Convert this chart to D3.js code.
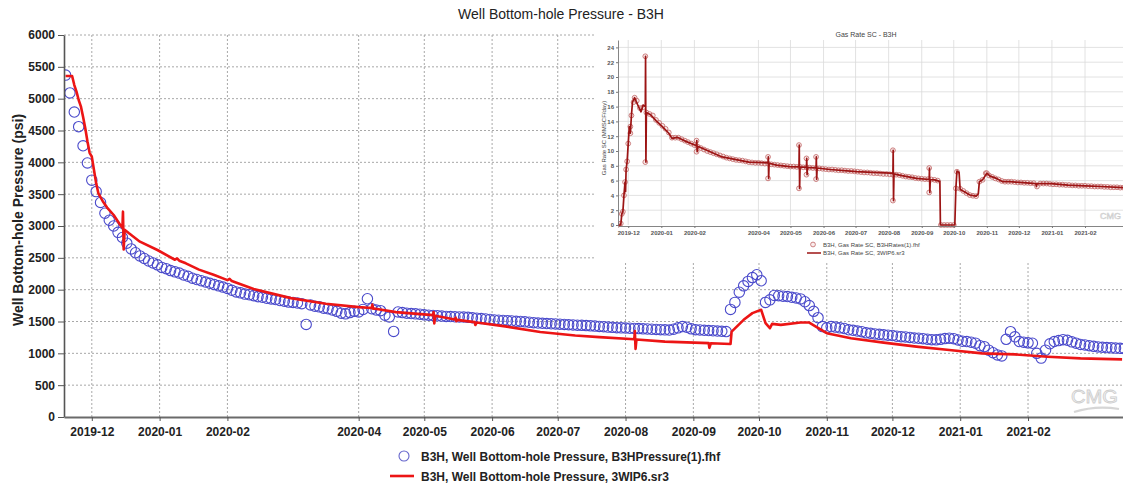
<!DOCTYPE html>
<html>
<head>
<meta charset="utf-8">
<script src="https://cdn.jsdelivr.net/npm/d3@7"></script>
<style>
  html, body { margin: 0; padding: 0; background: #fff; overflow: hidden; }
  svg { display: block; font-family: Arial, "Liberation Sans", sans-serif; }
</style>
</head>
<body>
<svg id="chart" width="1123" height="489"></svg>
<script>
// ---------------- data ----------------
const monthTicks = ["2019-12","2020-01","2020-02","2020-04","2020-05","2020-06","2020-07",
                    "2020-08","2020-09","2020-10","2020-11","2020-12","2021-01","2021-02"];
const pressureTicks = [0,500,1000,1500,2000,2500,3000,3500,4000,4500,5000,5500,6000];
const rateTicks = [0,2,4,6,8,10,12,14,16,18,20,22,24];

// measured bottom-hole pressure (psi), one reading every 2 days
const obsPressureStart = "2019-11-19";
const obsPressureStepDays = 2;
const obsPressure = [
  5370,5090,4790,4560,4260,3990,3720,3540,3370,3200,
  3090,3000,2900,2820,2730,2640,2580,2530,2490,2450,
  2420,2390,2350,2330,2300,2280,2260,2230,2210,2180,
  2160,2140,2120,2100,2080,2060,2040,2020,1990,1965,
  1950,1930,1920,1905,1890,1880,1865,1855,1845,1830,
  1820,1805,1800,1790,1780,1454,1760,1740,1730,1710,
  1700,1680,1660,1630,1620,1640,1660,1650,1690,1857,
  1700,1680,1670,1600,1570,1344,1650,1640,1630,1625,
  1620,1615,1605,1600,1595,1590,1585,1580,1578,1575,
  1572,1570,1565,1558,1552,1546,1540,1533,1525,1520,
  1516,1512,1508,1503,1500,1495,1488,1482,1476,1472,
  1468,1465,1462,1458,1454,1450,1446,1443,1440,1436,
  1432,1428,1422,1418,1412,1408,1403,1400,1397,1394,
  1392,1389,1385,1382,1378,1375,1372,1369,1366,1380,
  1400,1420,1410,1385,1372,1368,1362,1358,1355,1350,
  1346,1342,1690,1800,1960,2060,2130,2190,2235,2140,
  1800,1840,1910,1905,1898,1892,1880,1870,1855,1810,
  1750,1660,1560,1420,1400,1420,1412,1400,1390,1370,
  1362,1350,1340,1322,1315,1305,1298,1290,1285,1280,
  1270,1262,1258,1250,1240,1237,1230,1222,1215,1212,
  1220,1232,1238,1230,1210,1190,1185,1175,1160,1120,
  1105,1050,1010,975,960,1220,1340,1260,1185,1175,
  1165,1158,1000,925,1050,1150,1185,1200,1215,1205,
  1180,1160,1140,1132,1120,1110,1100,1095,1090,1086,
  1082,1079,1075
];

// simulated bottom-hole pressure (psi), 3WIP6.sr3
const simPressureDates = [
  "2019-11-19","2019-11-22","2019-11-23","2019-11-24","2019-11-25","2019-11-26","2019-11-27",
  "2019-11-28","2019-11-29","2019-11-30","2019-12-01","2019-12-02","2019-12-03","2019-12-04",
  "2019-12-06","2019-12-08","2019-12-11","2019-12-14","2019-12-15","2019-12-15T06:00Z",
  "2019-12-15T14:00Z","2019-12-16","2019-12-18","2019-12-23","2019-12-31","2020-01-08",
  "2020-01-09","2020-01-10","2020-01-13","2020-01-19","2020-01-26","2020-02-01","2020-02-02",
  "2020-02-03","2020-02-13","2020-03-01","2020-03-17","2020-04-01","2020-04-07",
  "2020-04-07T06:00Z","2020-04-07T14:00Z","2020-04-08","2020-04-18","2020-05-05",
  "2020-05-05T06:00Z","2020-05-05T14:00Z","2020-05-06","2020-05-15","2020-05-15T08:00Z",
  "2020-05-15T16:00Z","2020-05-16","2020-05-24","2020-05-24T08:00Z","2020-05-25","2020-06-07",
  "2020-06-23","2020-07-09","2020-07-20","2020-08-05","2020-08-05T06:00Z","2020-08-05T14:00Z",
  "2020-08-06","2020-08-19","2020-09-08","2020-09-08T08:00Z","2020-09-09","2020-09-18",
  "2020-09-18T12:00Z","2020-09-24","2020-09-28","2020-10-02","2020-10-04","2020-10-06",
  "2020-10-07","2020-10-11","2020-10-20","2020-10-24","2020-10-27","2020-11-01","2020-11-12",
  "2020-11-27","2020-12-12","2020-12-27","2021-01-11","2021-01-26","2021-02-10","2021-02-25",
  "2021-03-16"
];
const simPressure = [
  5356,5356,5214,5110,4979,4880,4717,
  4540,4330,4150,4090,3879,3670,3513,
  3390,3290,3173,3016,2975,3225,
  2630,2940,2885,2754,2623,2470,
  2490,2455,2414,2315,2230,2150,2170,
  2135,2010,1867,1778,1726,1712,
  1765,1700,1705,1647,1600,
  1650,1470,1590,1530,1560,
  1505,1525,1490,1445,1485,1423,
  1334,1281,1255,1221,1350,1070,
  1218,1184,1160,1085,1158,1147,
  1342,1526,1632,1684,1474,1395,
  1463,1447,1484,1484,1421,1316,1237,
  1168,1105,1053,1000,984,947,921,
  905
];

// measured gas rate (MMSCF/day), one reading every 3 days
const obsRateStart = "2019-11-21";
const obsRateStepDays = 3;
const obsRate = [
  0,0.2,4.0,8.6,13.3,16.6,16.8,15.8,15.9,15.2,
  15.0,14.8,14.2,13.8,13.4,13.0,12.5,11.8,11.8,11.8,
  11.6,11.4,11.2,11.0,10.8,10.6,10.4,10.2,10.0,9.85,
  9.7,9.55,9.4,9.25,9.1,9.0,8.9,8.8,8.75,8.7,
  8.6,8.5,8.45,8.4,8.4,8.35,8.3,8.3,8.2,8.15,
  8.1,8.05,8.0,7.95,7.9,7.9,7.85,7.85,7.8,7.8,
  7.75,7.7,7.7,7.65,7.6,7.55,7.5,7.5,7.45,7.4,
  7.4,7.35,7.3,7.3,7.25,7.2,7.15,7.1,7.1,7.05,
  7.0,7.0,6.95,6.9,6.9,6.85,6.8,6.8,6.75,6.65,
  6.55,6.5,6.45,6.35,6.3,6.25,6.2,6.2,6.15,6.1,
  6.0,0,0,0,0,0,7.2,4.9,4.6,4.3,
  4.05,3.95,3.9,5.85,6.1,7.0,6.7,6.5,6.3,6.15,
  5.95,5.85,5.85,5.85,5.8,5.75,5.75,5.7,5.7,5.65,
  5.65,5.2,5.6,5.6,5.6,5.55,5.5,5.5,5.45,5.45,
  5.4,5.4,5.35,5.35,5.3,5.3,5.3,5.25,5.25,5.2,
  5.2,5.2,5.15,5.15,5.1,5.1,5.1,5.05,5.05
];
// additional measured gas-rate readings (ramp-up and short spikes)
const obsRateExtraDates = [
  "2019-11-25","2019-11-26","2019-11-28","2019-11-29","2019-12-01","2019-12-03","2019-12-04",
  "2019-12-07","2019-12-17","2019-12-17","2020-02-03","2020-02-03","2020-04-10","2020-04-10",
  "2020-05-09","2020-05-09","2020-05-16","2020-05-16","2020-05-25","2020-05-25","2020-08-05",
  "2020-08-05","2020-09-08","2020-09-08","2020-10-03","2020-11-01"
];
const obsRateExtra = [
  1.5,1.8,5.8,7.5,11.0,12.4,14.8,
  17.2,22.8,8.5,11.4,9.9,9.2,6.3,
  10.8,4.95,9.0,6.8,9.2,6.2,10.1,
  3.3,7.7,4.4,4.95,7.0
];

// simulated gas rate (MMSCF/day), 3WIP6.sr3
const simRateDates = [
  "2019-11-21","2019-11-24","2019-11-25","2019-11-26","2019-11-27","2019-11-28","2019-11-28T12:00Z",
  "2019-11-29","2019-11-30","2019-12-01","2019-12-02","2019-12-03","2019-12-04","2019-12-05",
  "2019-12-07","2019-12-10","2019-12-13","2019-12-15","2019-12-17","2019-12-17T06:00Z",
  "2019-12-17T14:00Z","2019-12-18","2019-12-22","2019-12-27","2020-01-02","2020-01-08",
  "2020-01-11","2020-01-16","2020-01-24","2020-02-03","2020-02-03T06:00Z","2020-02-03T14:00Z",
  "2020-02-04","2020-02-27","2020-03-23","2020-04-10","2020-04-10T06:00Z","2020-04-10T14:00Z",
  "2020-04-11","2020-04-18","2020-04-30","2020-05-09","2020-05-09T06:00Z","2020-05-09T14:00Z",
  "2020-05-10","2020-05-16","2020-05-16T06:00Z","2020-05-16T14:00Z","2020-05-17","2020-05-25",
  "2020-05-25T06:00Z","2020-05-25T14:00Z","2020-05-26","2020-06-07","2020-07-02","2020-07-17",
  "2020-08-03","2020-08-05","2020-08-05T06:00Z","2020-08-05T14:00Z","2020-08-06","2020-08-11",
  "2020-08-27","2020-09-08","2020-09-08T06:00Z","2020-09-08T14:00Z","2020-09-09","2020-09-13",
  "2020-09-18","2020-09-18T12:00Z","2020-10-02","2020-10-03","2020-10-04","2020-10-06",
  "2020-10-07","2020-10-11","2020-10-16","2020-10-22","2020-10-24","2020-10-25","2020-10-28",
  "2020-11-01","2020-11-04","2020-11-10","2020-11-16","2020-11-23","2020-12-05","2020-12-17",
  "2020-12-17T12:00Z","2020-12-18","2020-12-31","2021-01-16","2021-02-01","2021-02-16","2021-03-09"
];
const simRate = [
  0,0,1.5,1.8,4.0,5.8,4.5,
  7.5,8.6,11.0,13.3,12.4,14.8,16.6,
  17.2,16.2,15.3,16.2,16.0,22.8,
  8.5,15.2,14.9,14.1,13.3,12.4,
  11.7,11.85,11.3,10.7,11.4,9.9,
  10.65,9.2,8.5,8.4,9.2,6.3,
  8.35,8.1,7.9,7.85,10.8,4.95,
  7.85,7.8,9.0,6.8,7.8,7.7,
  9.2,6.2,7.7,7.5,7.2,7.1,
  7.0,6.95,10.1,3.3,6.9,6.75,
  6.3,6.15,7.7,4.4,6.15,6.1,
  5.9,0,0,4.95,7.3,7.1,
  4.8,4.5,4.05,3.9,4.2,5.85,6.1,
  7.0,6.6,6.3,5.85,5.85,5.72,5.6,
  5.2,5.6,5.6,5.4,5.3,5.2,5.05
];

// ---------------- helpers ----------------
const DAY = 864e5;
const parseDate = s => new Date(s.length === 10 ? s + "T00:00:00Z" : s);
const regularSeries = (start, step, values) =>
  values.map((v, i) => ({ date: new Date(parseDate(start).getTime() + i * step * DAY), value: v }));
const pairSeries = (dates, values) => dates.map((d, i) => ({ date: parseDate(d), value: values[i] }));
const monthDates = monthTicks.map(m => parseDate(m + "-01"));

const svg = d3.select("#chart");
const W = 1123, H = 489;

// ---------------- main pressure plot ----------------
const plot = { left: 64, right: 1123, top: 35, bottom: 417 };
const x = d3.scaleUtc()
  .domain([parseDate("2019-11-18T07:00Z"), parseDate("2021-03-16T10:00Z")])
  .range([plot.left, plot.right]);
const y = d3.scaleLinear().domain([0, 6000]).range([plot.bottom, plot.top]);

const grid = svg.append("g").attr("class", "grid");
grid.selectAll("line.h").data(pressureTicks.filter(v => v > 0)).join("line")
  .attr("x1", plot.left).attr("x2", plot.right)
  .attr("y1", d => y(d)).attr("y2", d => y(d))
  .attr("stroke", "#a8a8a8").attr("stroke-width", 1).attr("stroke-dasharray", "2,2");
grid.selectAll("line.v").data(monthDates).join("line")
  .attr("x1", d => x(d)).attr("x2", d => x(d))
  .attr("y1", plot.top).attr("y2", plot.bottom)
  .attr("stroke", "#a8a8a8").attr("stroke-width", 1).attr("stroke-dasharray", "2,2");

svg.append("clipPath").attr("id", "plotClip").append("rect")
  .attr("x", plot.left + 1).attr("y", plot.top - 10)
  .attr("width", plot.right - plot.left).attr("height", plot.bottom - plot.top + 10);

const dataLayer = svg.append("g").attr("clip-path", "url(#plotClip)");
const obsP = regularSeries(obsPressureStart, obsPressureStepDays, obsPressure);
dataLayer.selectAll("circle").data(obsP).join("circle")
  .attr("cx", d => x(d.date)).attr("cy", d => y(d.value)).attr("r", 5.2)
  .attr("fill", "none").attr("stroke", "#4a4acb").attr("stroke-width", 1.1);

const simP = pairSeries(simPressureDates, simPressure);
dataLayer.append("path").datum(simP)
  .attr("d", d3.line().x(d => x(d.date)).y(d => y(d.value)))
  .attr("fill", "none").attr("stroke", "#ec1515").attr("stroke-width", 2.6)
  .attr("stroke-linejoin", "round");

// axes
const yAxis = svg.append("g").attr("transform", `translate(${plot.left},0)`)
  .call(d3.axisLeft(y).tickValues(pressureTicks).tickFormat(d3.format("d"))
    .tickSize(6).tickSizeOuter(0).tickPadding(3));
yAxis.select(".domain").attr("stroke", "#555").attr("stroke-width", 1.6);
yAxis.selectAll(".tick line").attr("stroke", "#555");
yAxis.selectAll("text").attr("font-size", 12).attr("font-weight", "bold")
  .attr("fill", "#222").attr("font-family", "Arial, 'Liberation Sans', sans-serif");

const xAxis = svg.append("g").attr("transform", `translate(0,${plot.bottom})`)
  .call(d3.axisBottom(x).tickValues(monthDates).tickFormat(d3.utcFormat("%Y-%m"))
    .tickSize(4).tickSizeOuter(0).tickPadding(6));
xAxis.select(".domain").attr("stroke", "#6a6a6a").attr("stroke-width", 2);
xAxis.selectAll(".tick line").attr("stroke", "#555");
xAxis.selectAll("text").attr("font-size", 12).attr("font-weight", "bold")
  .attr("fill", "#222").attr("font-family", "Arial, 'Liberation Sans', sans-serif");

svg.append("text").attr("transform", "translate(23,220) rotate(-90)")
  .attr("text-anchor", "middle").attr("font-size", 14).attr("font-weight", "bold")
  .attr("fill", "#222").text("Well Bottom-hole Pressure (psi)");

svg.append("text").attr("x", 561).attr("y", 19).attr("text-anchor", "middle")
  .attr("font-size", 14).attr("fill", "#222").text("Well Bottom-hole Pressure - B3H");

// logo, main plot
const logo = svg.append("g").attr("opacity", 0.9);
logo.append("text").attr("x", 1071).attr("y", 403).attr("font-size", 19)
  .attr("textLength", 47).attr("lengthAdjust", "spacingAndGlyphs")
  .attr("fill", "#f4f4f4").attr("stroke", "#c9c9c9").attr("stroke-width", 0.8).text("CMG");
logo.append("path").attr("d", "M1074,412 Q1096,405 1119,409")
  .attr("fill", "none").attr("stroke", "#d2d2d2").attr("stroke-width", 2.2);

// legend
const legend = svg.append("g").attr("font-size", 12).attr("font-weight", "bold").attr("fill", "#222");
legend.append("circle").attr("cx", 404).attr("cy", 456).attr("r", 5)
  .attr("fill", "none").attr("stroke", "#6666cc").attr("stroke-width", 1.1);
legend.append("text").attr("x", 421).attr("y", 461).text("B3H, Well Bottom-hole Pressure, B3HPressure(1).fhf");
legend.append("line").attr("x1", 390).attr("x2", 414).attr("y1", 476).attr("y2", 476)
  .attr("stroke", "#ec1515").attr("stroke-width", 2.6);
legend.append("text").attr("x", 421).attr("y", 481).text("B3H, Well Bottom-hole Pressure, 3WIP6.sr3");

// ---------------- inset gas-rate plot ----------------
const inset = svg.append("g");
inset.append("rect").attr("x", 596).attr("y", 27).attr("width", W - 596).attr("height", 235)
  .attr("fill", "#fff");

const ip = { left: 618, right: 1123, top: 40, bottom: 225 };
const xi = d3.scaleUtc()
  .domain([parseDate("2019-11-21T10:00Z"), parseDate("2021-03-08T14:00Z")])
  .range([ip.left, ip.right]);
const yi = d3.scaleLinear().domain([0, 25]).range([ip.bottom, ip.top]);

inset.selectAll("line.ih").data(rateTicks.filter(v => v > 0)).join("line")
  .attr("x1", ip.left).attr("x2", ip.right)
  .attr("y1", d => yi(d)).attr("y2", d => yi(d))
  .attr("stroke", "#dadada").attr("stroke-width", 0.8);
inset.selectAll("line.iv").data(monthDates).join("line")
  .attr("x1", d => xi(d)).attr("x2", d => xi(d))
  .attr("y1", ip.top).attr("y2", ip.bottom)
  .attr("stroke", "#dadada").attr("stroke-width", 0.8);

svg.append("clipPath").attr("id", "insetClip").append("rect")
  .attr("x", ip.left).attr("y", ip.top - 6).attr("width", ip.right - ip.left).attr("height", ip.bottom - ip.top + 9);
const insetData = inset.append("g").attr("clip-path", "url(#insetClip)");

const obsR = regularSeries(obsRateStart, obsRateStepDays, obsRate)
  .concat(pairSeries(obsRateExtraDates, obsRateExtra));
insetData.selectAll("circle").data(obsR).join("circle")
  .attr("cx", d => xi(d.date)).attr("cy", d => yi(d.value)).attr("r", 2.4)
  .attr("fill", "rgba(238,200,200,0.35)").attr("stroke", "#c06464").attr("stroke-width", 0.8);

const simR = pairSeries(simRateDates, simRate);
insetData.append("path").datum(simR)
  .attr("d", d3.line().x(d => xi(d.date)).y(d => yi(d.value)))
  .attr("fill", "none").attr("stroke", "#9c1414").attr("stroke-width", 1.7)
  .attr("stroke-linejoin", "round");

const yiAxis = inset.append("g").attr("transform", `translate(${ip.left},0)`)
  .call(d3.axisLeft(yi).tickValues(rateTicks).tickSize(2).tickSizeOuter(0).tickPadding(2));
yiAxis.select(".domain").attr("stroke", "#777").attr("stroke-width", 0.9);
yiAxis.selectAll(".tick line").attr("stroke", "#777");
yiAxis.selectAll("text").attr("font-size", 6).attr("font-weight", "bold").attr("fill", "#555")
  .attr("font-family", "Arial, 'Liberation Sans', sans-serif");

const xiAxis = inset.append("g").attr("transform", `translate(0,${ip.bottom + 1})`)
  .call(d3.axisBottom(xi).tickValues(monthDates).tickFormat(d3.utcFormat("%Y-%m"))
    .tickSize(2).tickSizeOuter(0).tickPadding(3));
xiAxis.select(".domain").attr("stroke", "#777").attr("stroke-width", 0.9);
xiAxis.selectAll(".tick line").attr("stroke", "#777");
xiAxis.selectAll("text").attr("font-size", 6).attr("font-weight", "bold").attr("fill", "#555")
  .attr("font-family", "Arial, 'Liberation Sans', sans-serif");

inset.append("text").attr("x", 866).attr("y", 37).attr("text-anchor", "middle")
  .attr("font-size", 7).attr("fill", "#444").text("Gas Rate SC - B3H");
inset.append("text").attr("transform", "translate(606,138) rotate(-90)")
  .attr("text-anchor", "middle").attr("font-size", 6).attr("fill", "#444")
  .text("Gas Rate SC (MMSCF/day)");

// inset logo
inset.append("text").attr("x", 1100).attr("y", 219).attr("font-size", 9)
  .attr("fill", "#f0f0f0").attr("stroke", "#cccccc").attr("stroke-width", 0.5).text("CMG");

// inset legend
const il = inset.append("g").attr("font-size", 6).attr("fill", "#444");
il.append("circle").attr("cx", 813).attr("cy", 244.5).attr("r", 2.4)
  .attr("fill", "rgba(238,200,200,0.35)").attr("stroke", "#c06464").attr("stroke-width", 0.8);
il.append("text").attr("x", 823).attr("y", 246.5).text("B3H, Gas Rate SC, B3HRates(1).fhf");
il.append("line").attr("x1", 807).attr("x2", 821).attr("y1", 253).attr("y2", 253)
  .attr("stroke", "#9c1414").attr("stroke-width", 1.5);
il.append("text").attr("x", 823).attr("y", 255).text("B3H, Gas Rate SC, 3WIP6.sr3");
</script>
</body>
</html>
